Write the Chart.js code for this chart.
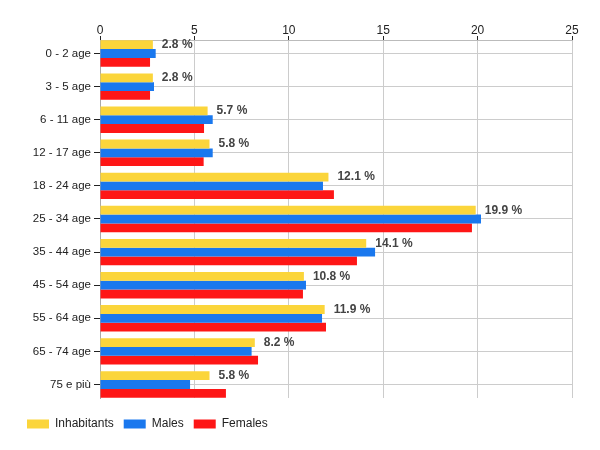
<!DOCTYPE html>
<html><head><meta charset="utf-8">
<script src="https://cdn.jsdelivr.net/npm/chart.js@4"></script>
<style>html,body{margin:0;padding:0;background:#fff}</style>
</head><body>
<canvas id="c" width="600" height="450"></canvas>
<script>
const categories = ['0 - 2 age','3 - 5 age','6 - 11 age','12 - 17 age','18 - 24 age','25 - 34 age','35 - 44 age','45 - 54 age','55 - 64 age','65 - 74 age','75 e più'];
const inhabitants = [2.8, 2.8, 5.7, 5.8, 12.1, 19.9, 14.1, 10.8, 11.9, 8.2, 5.8];
const males = [2.95, 2.86, 5.97, 5.97, 11.81, 20.18, 14.57, 10.91, 11.76, 8.03, 4.77];
const females = [2.65, 2.65, 5.51, 5.49, 12.39, 19.7, 13.61, 10.75, 11.97, 8.37, 6.67];
const xTicks = [0, 5, 10, 15, 20, 25];
const seriesNames = ['Inhabitants', 'Males', 'Females'];

const FONT = 'Arial, "Liberation Sans", sans-serif';
Chart.defaults.font.family = FONT;
Chart.defaults.font.size = 12;
Chart.defaults.color = '#222';

const toPts = arr => arr.map((v, i) => ({x: v, y: i}));

const labelPlugin = {
  id: 'vlabels',
  afterDatasetsDraw(chart) {
    const meta = chart.getDatasetMeta(0);
    const ctx = chart.ctx;
    ctx.save();
    ctx.font = 'bold 12px ' + FONT;
    ctx.fillStyle = '#444';
    ctx.textBaseline = 'middle';
    ctx.textAlign = 'left';
    meta.data.forEach((el, i) => {
      ctx.fillText(inhabitants[i].toFixed(1) + ' %', el.x + 9, el.y);
    });
    ctx.restore();
  }
};

new Chart(document.getElementById('c'), {
  type: 'bar',
  data: {
    datasets: [
      {label: seriesNames[0], data: toPts(inhabitants), backgroundColor: '#FBD53B', xAxisID: 'x', yAxisID: 'y'},
      {label: seriesNames[1], data: toPts(males), backgroundColor: '#1A78EE', xAxisID: 'x', yAxisID: 'y'},
      {label: seriesNames[2], data: toPts(females), backgroundColor: '#FE1616', xAxisID: 'x', yAxisID: 'y'}
    ]
  },
  options: {
    responsive: false,
    animation: false,
    indexAxis: 'y',
    layout: {padding: {left: 17, right: 28, top: 0, bottom: 10}},
    datasets: {bar: {categoryPercentage: 0.797, barPercentage: 1, borderWidth: 0}},
    scales: {
      x: {
        type: 'linear', position: 'top', min: 0, max: 25, offset: false,
        afterBuildTicks: s => { s.ticks = xTicks.map(v => ({value: v})); },
        afterFit: s => { s.height = 40; },
        grid: {color: '#ccc', tickColor: '#222', tickLength: 4, offset: false},
        border: {color: '#bbb'},
        ticks: {padding: -1.5, color: '#222', maxRotation: 0}
      },
      y: {
        type: 'linear', reverse: true, min: -0.4075, max: 10.4075, offset: false,
        afterFit: s => { s.width = 83; },
        grid: {color: '#ccc', tickColor: '#222', tickLength: 6, offset: false},
        border: {color: '#aaa'},
        ticks: {stepSize: 1, includeBounds: false, autoSkip: false, padding: 3, color: '#222',
          font: {size: 11.5},
          callback: v => Number.isInteger(v) ? categories[v] : ''}
      },
      gap: {
        type: 'linear', axis: 'x', position: 'bottom', display: true,
        grid: {display: false}, ticks: {display: false}, border: {display: false},
        afterFit: s => { s.height = 10; }
      }
    },
    plugins: {
      legend: {position: 'bottom', align: 'start',
        labels: {boxWidth: 22, boxHeight: 9, padding: 10, color: '#222', font: {size: 12}}},
      tooltip: {enabled: false}
    }
  },
  plugins: [labelPlugin]
});
</script>
</body></html>
